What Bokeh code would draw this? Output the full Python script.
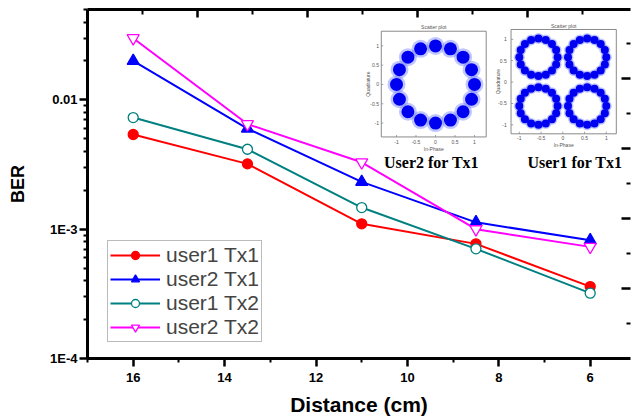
import math
from bokeh.plotting import figure
from bokeh.models import (Range1d, LinearScale, LinearAxis, FixedTicker, Legend, LegendItem,
                          CustomLabelingPolicy)
from bokeh.core.properties import value
from bokeh.embed import file_html
from bokeh.resources import INLINE

# ---------------- data ----------------
distance = [16, 13.5, 11, 8.5, 6]
ber_user1_tx1 = [5.4e-3, 3.2e-3, 1.10e-3, 7.7e-4, 3.6e-4]
ber_user2_tx1 = [2.0e-2, 6.0e-3, 2.32e-3, 1.13e-3, 8.2e-4]
ber_user1_tx2 = [7.3e-3, 4.15e-3, 1.47e-3, 7.05e-4, 3.2e-4]
ber_user2_tx2 = [3.0e-2, 6.5e-3, 3.29e-3, 1.0e-3, 7.3e-4]

series_labels = ["user1 Tx1", "user2 Tx1", "user1 Tx2", "user2 Tx2"]

x_ticks = [16, 14, 12, 10, 8, 6]
x_minor_ticks = [17, 15, 13, 11, 9, 7]
y_ticks = [1e-4, 1e-3, 1e-2]
y_tick_labels = ["1E-4", "1E-3", "0.01"]

# inset constellations (cluster centres)
psk16_i = [1.0, 0.924, 0.707, 0.383, 0.0, -0.383, -0.707, -0.924,
           -1.0, -0.924, -0.707, -0.383, 0.0, 0.383, 0.707, 0.924]
psk16_q = [0.0, 0.383, 0.707, 0.924, 1.0, 0.924, 0.707, 0.383,
           0.0, -0.383, -0.707, -0.924, -1.0, -0.924, -0.707, -0.383]
quad_centre_i = [-0.56, 0.56, -0.56, 0.56]
quad_centre_q = [0.58, 0.58, -0.56, -0.56]
ring_radius_small = 0.44
inset_ticks = [-1, -0.5, 0, 0.5, 1]
inset_tick_labels = ["-1", "-0.5", "0", "0.5", "1"]
inset_captions = ["User2 for Tx1", "User1 for Tx1"]

# ---------------- layout constants (page pixels) ----------------
FL, FR, FT, FB = 87.0, 630.0, 9.0, 360.0
PX_PER_CM = 45.7

p = figure(width=632, height=418,
           x_range=Range1d(17, 17 - (FR - FL) / PX_PER_CM), y_range=Range1d(1e-4, 0.05),
           y_axis_type="log", output_backend="svg", toolbar_location=None,
           min_border_left=int(FL), min_border_right=632 - int(FR), min_border_top=int(FT),
           min_border_bottom=418 - int(FB))
p.outline_line_color = None
p.xgrid.visible = False
p.ygrid.visible = False
p.background_fill_color = "white"

FONT = "Liberation Sans"
xa = p.below[0]
ya = p.left[0]
xa.ticker = FixedTicker(ticks=x_ticks, minor_ticks=x_minor_ticks)
y_minor = [m * 10.0 ** e for e in (-4, -3, -2) for m in range(2, 10) if m * 10.0 ** e <= 0.05]
ya.ticker = FixedTicker(ticks=y_ticks, minor_ticks=y_minor)
ya.major_label_overrides = {t: l for t, l in zip(y_ticks, y_tick_labels)}
for ax in (xa, ya):
    ax.axis_line_width = 3
    ax.axis_line_color = "black"
    ax.major_tick_line_width = 2.5
    ax.minor_tick_line_width = 2
    ax.major_tick_out = 8
    ax.major_tick_in = 0
    ax.minor_tick_out = 4
    ax.minor_tick_in = 0
    ax.major_label_text_font = FONT
    ax.major_label_text_font_style = "bold"
    ax.major_label_text_font_size = "13px"
    ax.major_label_text_color = "black"
    ax.axis_label_text_font = FONT
    ax.axis_label_text_font_style = "bold"
    ax.axis_label_text_color = "black"
xa.axis_label = "Distance (cm)"
xa.axis_label_text_font_size = "21px"
xa.axis_label_standoff = 8
xa.major_label_standoff = 6
ya.axis_label = "BER"
ya.axis_label_text_font_size = "18px"
ya.axis_label_standoff = 19
ya.major_label_standoff = 2

# extra (linear) ranges for top/right decorative axes and the insets
fw = FR - FL
fh = FB - FT
def rng(zero, ppu, lo, hi, flip=False):
    if flip:
        return Range1d((zero - hi) / ppu, (zero - lo) / ppu)
    return Range1d((lo - zero) / ppu, (hi - zero) / ppu)

p.extra_x_ranges = {
    "top": Range1d(0, fw / 110.0),
    "i1x": rng(435.0, 39.0, FL, FR),
    "i2x": rng(562.3, 43.5, FL, FR),
}
p.extra_y_ranges = {
    "right": Range1d(0, fh / 70.4),
    "i1y": rng(84.4, 38.8, FT, FB, flip=True),
    "i2y": rng(82.0, 43.0, FT, FB, flip=True),
}
p.extra_x_scales = {k: LinearScale() for k in p.extra_x_ranges}
p.extra_y_scales = {k: LinearScale() for k in p.extra_y_ranges}

no_labels = CustomLabelingPolicy(code="""
try {
  if (typeof indices.clear === "function") { indices.clear() }
  else { for (const i of Array.from(indices)) { indices.set(i, false) } }
} catch (e) {}
return indices
""")

top_ax = LinearAxis(x_range_name="top",
                    ticker=FixedTicker(ticks=[1, 2, 3, 4], minor_ticks=[0.5, 1.5, 2.5, 3.5, 4.5]),
                    axis_line_width=3, major_tick_in=8, major_tick_out=0,
                    minor_tick_in=5, minor_tick_out=0, major_tick_line_width=2.5,
                    minor_tick_line_width=2, major_label_text_font_size="0px",
                    major_label_standoff=0, major_label_policy=no_labels)
p.add_layout(top_ax, "above")
right_ax = LinearAxis(y_range_name="right",
                      ticker=FixedTicker(ticks=[1, 2, 3, 4], minor_ticks=[0.5, 1.5, 2.5, 3.5, 4.5]),
                      axis_line_color=None, major_tick_in=9, major_tick_out=0,
                      minor_tick_in=4, minor_tick_out=0, major_tick_line_width=2.5,
                      minor_tick_line_width=2, major_label_text_font_size="0px",
                      major_label_standoff=0, major_label_policy=no_labels)
p.add_layout(right_ax, "right")

# ---------------- insets ----------------
def draw_inset(xr, yr, left, right, bottom, top, pts_i, pts_q, core, halo,
               title_y, tick_y, xlabel_y, ytick_x, ylabel_x, caption, cap_x, cap_y):
    kw = dict(x_range_name=xr, y_range_name=yr)
    p.quad(left=[left], right=[right], bottom=[bottom], top=[top],
           fill_color="white", line_color="#8a8a8a", line_width=1, **kw)
    p.segment(x0=inset_ticks, x1=inset_ticks, y0=[bottom] * 5,
              y1=[bottom + 0.05] * 5, line_color="#8a8a8a", line_width=0.8, **kw)
    p.segment(x0=[left] * 5, x1=[left + 0.05] * 5, y0=inset_ticks,
              y1=inset_ticks, line_color="#8a8a8a", line_width=0.8, **kw)
    p.scatter(x=pts_i, y=pts_q, size=halo, marker="circle", fill_color="#4a5cff",
              fill_alpha=0.35, line_color=None, **kw)
    p.scatter(x=pts_i, y=pts_q, size=core, marker="circle", fill_color="#0000f0",
              line_color=None, **kw)
    tfont = dict(text_font=value(FONT), text_font_size="5px", text_color="#555555")
    p.text(x=[(left + right) / 2], y=[title_y], text=["Scatter plot"],
           text_align="center", text_baseline="middle", **tfont, **kw)
    p.text(x=inset_ticks, y=[tick_y] * 5, text=inset_tick_labels,
           text_align="center", text_baseline="middle", **tfont, **kw)
    p.text(x=[ytick_x] * 5, y=inset_ticks, text=inset_tick_labels,
           text_align="right", text_baseline="middle", **tfont, **kw)
    p.text(x=[(left + right) / 2], y=[xlabel_y], text=["In-Phase"],
           text_align="center", text_baseline="middle", **tfont, **kw)
    p.text(x=[ylabel_x], y=[(top + bottom) / 2], text=["Quadrature"], angle=math.pi / 2,
           text_align="center", text_baseline="middle", **tfont, **kw)
    p.text(x=[cap_x], y=[cap_y], text=[caption], text_font=value("Liberation Serif"),
           text_font_style="bold", text_font_size="16px", text_color="black",
           text_align="center", text_baseline="middle", **kw)

draw_inset("i1x", "i1y", -1.39, 1.30, -1.36, 1.38, psk16_i, psk16_q, 13, 18,
           1.49, -1.50, -1.66, -1.45, -1.72, inset_captions[0], -0.1, -2.03)

quad_i = [ci + ring_radius_small * u for ci, cq in zip(quad_centre_i, quad_centre_q) for u in psk16_i]
quad_q = [cq + ring_radius_small * v for ci, cq in zip(quad_centre_i, quad_centre_q) for v in psk16_q]
draw_inset("i2x", "i2y", -1.19, 1.23, -1.21, 1.23, quad_i, quad_q, 8, 11,
           1.32, -1.31, -1.48, -1.29, -1.49, inset_captions[1], 0.28, -1.88)

# ---------------- series ----------------
styles = [
    (ber_user1_tx1, "#ff0000", "circle", "#ff0000", 10),
    (ber_user2_tx1, "#0000ff", "triangle", "#0000ff", 12),
    (ber_user1_tx2, "#008080", "circle", "white", 10),
    (ber_user2_tx2, "#ff00ff", "inverted_triangle", "white", 12),
]
items = []
for (ys, col, mk, fill, sz), lab in zip(styles, series_labels):
    lr = p.line(distance, ys, line_color=col, line_width=2)
    sr = p.scatter(distance, ys, marker=mk, size=sz, fill_color=fill,
                   line_color=col, line_width=1.3)
    items.append(LegendItem(label=lab, renderers=[lr, sr]))

legend = Legend(items=items, location=(20, 16), margin=0, padding=2,
                label_text_font=FONT, label_text_font_size="21px",
                glyph_width=50, glyph_height=20, label_height=20, spacing=0,
                label_standoff=6, border_line_color="#777777", border_line_width=1,
                background_fill_color="white", background_fill_alpha=1.0)
p.add_layout(legend)

open("out.html", "w").write(file_html(p, INLINE))
